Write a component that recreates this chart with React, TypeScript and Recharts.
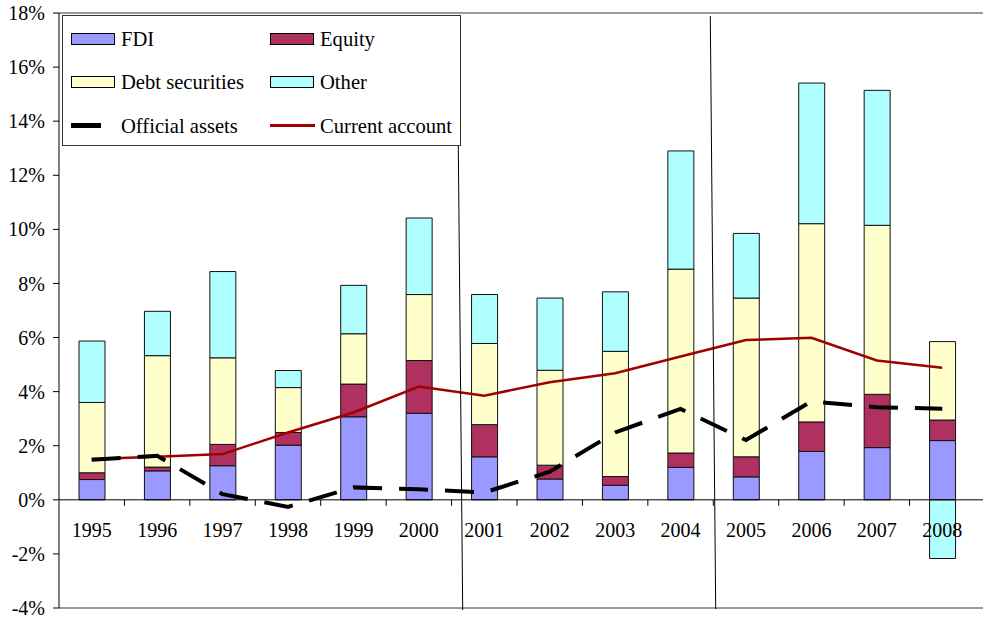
import React from "react";
import {
  ComposedChart,
  Bar,
  Line,
  XAxis,
  YAxis,
  ReferenceLine,
} from "recharts";

const years = ["1995", "1996", "1997", "1998", "1999", "2000", "2001", "2002", "2003", "2004", "2005", "2006", "2007", "2008"];
const fdi = [0.75, 1.07, 1.26, 2.02, 3.07, 3.2, 1.59, 0.77, 0.54, 1.2, 0.85, 1.79, 1.93, 2.19];
const equity = [0.25, 0.14, 0.79, 0.47, 1.21, 1.95, 1.19, 0.51, 0.32, 0.53, 0.74, 1.09, 1.97, 0.76];
const debtSecurities = [2.6, 4.12, 3.2, 1.66, 1.86, 2.44, 3.0, 3.51, 4.63, 6.8, 5.87, 7.33, 6.25, 2.9];
const other = [2.27, 1.64, 3.19, 0.63, 1.79, 2.83, 1.81, 2.67, 2.2, 4.37, 2.39, 5.2, 4.99, -2.17];
const officialAssets = [1.48, 1.63, 0.21, -0.26, 0.46, 0.39, 0.27, 1.04, 2.49, 3.36, 2.21, 3.64, 3.42, 3.37];
const currentAccount = [1.51, 1.59, 1.69, 2.49, 3.23, 4.19, 3.85, 4.35, 4.68, 5.3, 5.91, 5.99, 5.15, 4.88];
const yTicks = [-4, -2, 0, 2, 4, 6, 8, 10, 12, 14, 16, 18];

const data = years.map((year, i) => ({
  year,
  fdi: fdi[i],
  equity: equity[i],
  debt: debtSecurities[i],
  other: other[i],
  official: officialAssets[i],
  current: currentAccount[i],
}));

const W = 983;
const H = 618;
const FONT = '"Liberation Serif", "DejaVu Serif", serif';
const TOP = 13;
const BOTTOM = 10;
const X_AXIS_H = 1;
const LEFT = 59;
const PAD_RIGHT = 8;
const Y_MIN = -4;
const Y_MAX = 18;
const PLOT_H = H - TOP - BOTTOM;
const ZERO_Y = TOP + (Y_MAX / (Y_MAX - Y_MIN)) * PLOT_H;
const STEP = (W - LEFT - PAD_RIGHT) / years.length;

const COLORS = {
  fdi: "#9999FF",
  equity: "#B03060",
  debt: "#FFFFCC",
  other: "#B0FFFF",
  current: "#A00000",
};

// year labels sit under the zero line, with small ticks between categories
const YearTick = (props: any) => {
  const { x, payload, index } = props;
  return (
    <g>
      {index > 0 && (
        <line x1={x - STEP / 2} x2={x - STEP / 2} y1={ZERO_Y} y2={ZERO_Y + 6} stroke="#000" strokeWidth={1} />
      )}
      <text x={x} y={ZERO_Y + 37} textAnchor="middle" fontFamily={FONT} fontSize={20} fill="#000">
        {payload.value}
      </text>
    </g>
  );
};

const legendItems = [
  { label: "FDI", kind: "box", color: COLORS.fdi },
  { label: "Equity", kind: "box", color: COLORS.equity },
  { label: "Debt securities", kind: "box", color: COLORS.debt },
  { label: "Other", kind: "box", color: COLORS.other },
  { label: "Official assets", kind: "dash", color: "#000" },
  { label: "Current account", kind: "line", color: COLORS.current },
];

function ChartLegend() {
  return (
    <div
      style={{
        position: "absolute",
        left: 62,
        top: 15,
        width: 399,
        height: 131,
        boxSizing: "border-box",
        border: "1px solid #333",
        background: "#fff",
        fontFamily: FONT,
        fontSize: 20.6,
      }}
    >
      {legendItems.map((item, i) => {
        const col = i % 2;
        const row = Math.floor(i / 2);
        const cy = 22.5 + row * 43.7;
        const left = col === 0 ? 8 : 207;
        return (
          <div key={item.label}>
            {item.kind === "box" && (
              <div
                style={{
                  position: "absolute",
                  left,
                  top: cy - 6,
                  width: 44,
                  height: 12,
                  boxSizing: "border-box",
                  border: "1.5px solid #000",
                  background: item.color,
                }}
              />
            )}
            {item.kind === "dash" && (
              <div style={{ position: "absolute", left, top: cy - 2.5, width: 30, height: 5, background: "#000" }} />
            )}
            {item.kind === "line" && (
              <div style={{ position: "absolute", left, top: cy - 1.5, width: 45, height: 3, background: item.color }} />
            )}
            <span
              style={{
                position: "absolute",
                left: left + 50,
                top: cy - 12,
                lineHeight: "24px",
                whiteSpace: "nowrap",
                color: "#000",
              }}
            >
              {item.label}
            </span>
          </div>
        );
      })}
    </div>
  );
}

export default function App() {
  return (
    <div style={{ position: "absolute", left: 0, top: 0, width: W, height: H, background: "#fff" }}>
      <ComposedChart
        width={W}
        height={H}
        data={data}
        stackOffset="sign"
        barSize={26}
        margin={{ top: TOP, right: 0, bottom: BOTTOM - X_AXIS_H, left: 0 }}
      >
        <XAxis
          dataKey="year"
          height={X_AXIS_H}
          axisLine={false}
          tickLine={false}
          interval={0}
          padding={{ left: 0, right: PAD_RIGHT }}
          tick={YearTick}
        />
        <YAxis
          width={LEFT}
          domain={[Y_MIN, Y_MAX]}
          ticks={yTicks}
          interval={0}
          tickFormatter={(v: number) => `${v}%`}
          axisLine={{ stroke: "#000" }}
          tickLine={{ stroke: "#000" }}
          tickSize={6}
          tickMargin={8}
          tick={{ fontFamily: FONT, fontSize: 20, fill: "#000" }}
        />
        <ReferenceLine y={Y_MAX} stroke="#999" strokeWidth={2} />
        <ReferenceLine y={Y_MIN} stroke="#999" strokeWidth={2} />
        <Bar dataKey="fdi" stackId="a" fill={COLORS.fdi} stroke="#111" strokeWidth={1} isAnimationActive={false} />
        <Bar dataKey="equity" stackId="a" fill={COLORS.equity} stroke="#111" strokeWidth={1} isAnimationActive={false} />
        <Bar dataKey="debt" stackId="a" fill={COLORS.debt} stroke="#111" strokeWidth={1} isAnimationActive={false} />
        <Bar dataKey="other" stackId="a" fill={COLORS.other} stroke="#111" strokeWidth={1} isAnimationActive={false} />
        <ReferenceLine y={0} stroke="#000" strokeWidth={1} />
        <Line
          type="linear"
          dataKey="current"
          stroke={COLORS.current}
          strokeWidth={2.5}
          dot={false}
          isAnimationActive={false}
        />
        <Line
          type="linear"
          dataKey="official"
          stroke="#000"
          strokeWidth={4}
          strokeDasharray="29 17"
          dot={false}
          isAnimationActive={false}
        />
      </ComposedChart>
      <ChartLegend />
      {/* period separators */}
      <svg width={W} height={H} style={{ position: "absolute", left: 0, top: 0, pointerEvents: "none" }}>
        <line x1={458.3} y1={146} x2={462.7} y2={610} stroke="#000" strokeWidth={1} />
        <line x1={710.3} y1={16} x2={715.7} y2={609} stroke="#000" strokeWidth={1} />
      </svg>
    </div>
  );
}
